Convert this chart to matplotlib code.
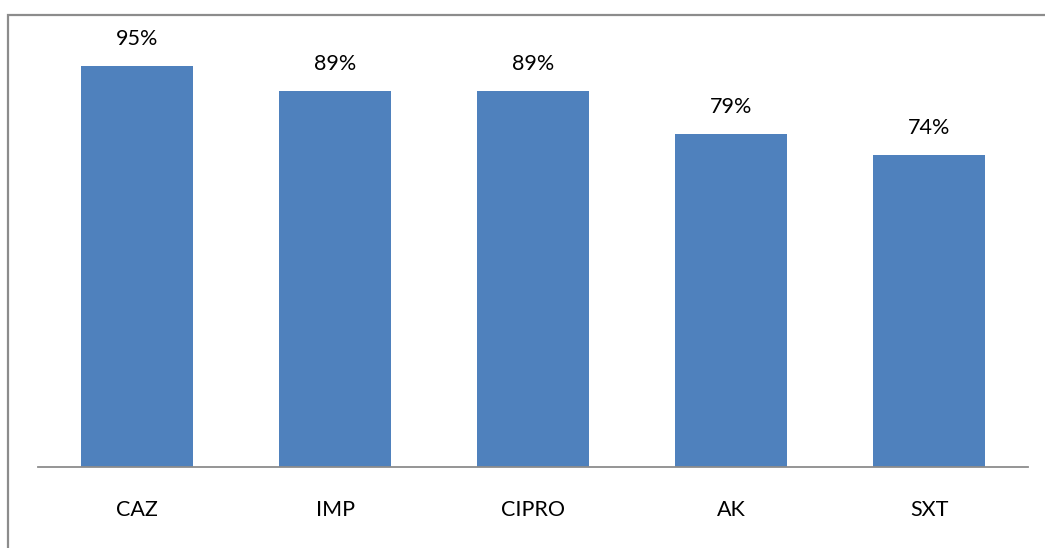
import matplotlib
matplotlib.use("Agg")
import matplotlib.pyplot as plt
from matplotlib.patches import Rectangle

categories = ["CAZ", "IMP", "CIPRO", "AK", "SXT"]
values = [95, 89, 89, 79, 74]

W, H = 1045, 548
fig = plt.figure(figsize=(W / 100, H / 100), dpi=100)
plt.rcParams["font.family"] = ["Lato", "DejaVu Sans"]

# outer chart frame
fig.patches.append(Rectangle((8 / W, 0 - 0.05), 1.1, 1 - 15 / H + 0.05,
                             transform=fig.transFigure, fill=False,
                             edgecolor="#8c8c8c", linewidth=1.6))

ax = fig.add_axes([38 / W, 1 - 467 / H, (1028 - 38) / W, (467 - 45) / H])
x = range(len(categories))
bars = ax.bar(x, values, width=0.566, color="#4f81bd")
ax.set_ylim(0, 100)
ax.set_xlim(-0.5, len(categories) - 0.5)

for b, v in zip(bars, values):
    ax.annotate(f"{v}%", (b.get_x() + b.get_width() / 2, v),
                xytext=(0, 17), textcoords="offset pixels",
                ha="center", va="bottom", fontsize=15.5, color="#000000")

ax.set_xticks(list(x))
ax.set_xticklabels(categories, fontsize=15.5)
ax.tick_params(axis="x", length=0, pad=24)
ax.set_yticks([])
for s in ["top", "right", "left"]:
    ax.spines[s].set_visible(False)
ax.spines["bottom"].set_color("#8c8c8c")
ax.spines["bottom"].set_linewidth(1.3)

fig.savefig("out.png", dpi=100)
